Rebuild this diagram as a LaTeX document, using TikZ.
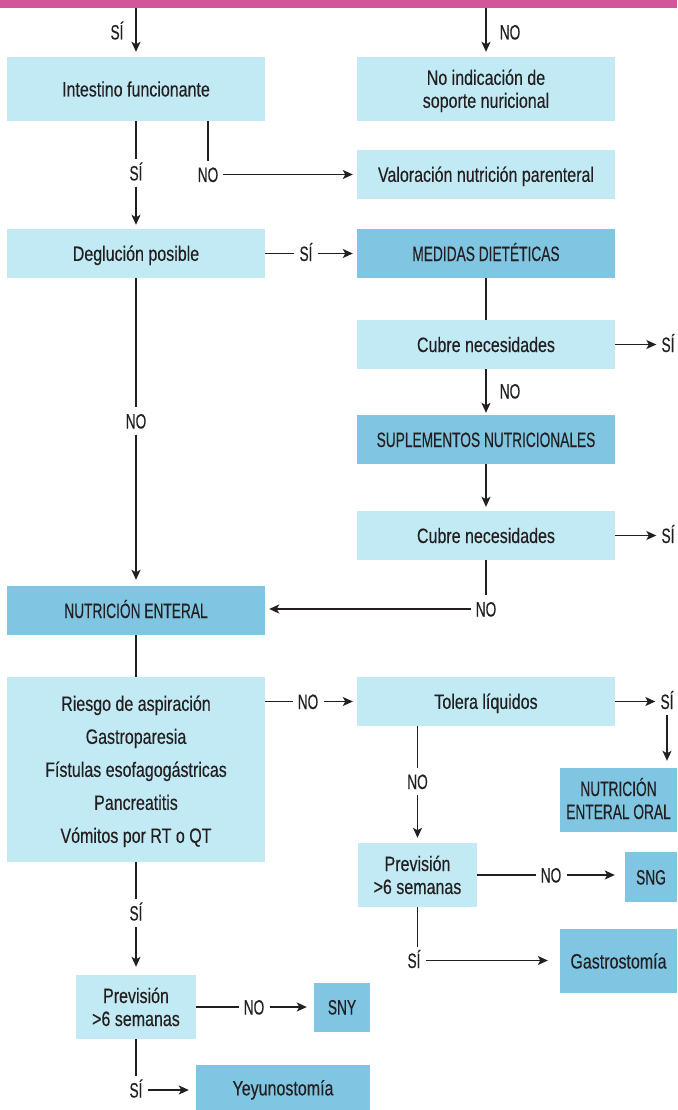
\documentclass[tikz,border=0pt]{standalone}
\usepackage{fontspec}
\usetikzlibrary{arrows.meta}
\newfontfamily\lcf[FakeStretch=0.77,FakeBold=0.3]{Liberation Sans}
\newfontfamily\ucf[FakeStretch=0.66,FakeBold=0.3]{Liberation Sans}
\definecolor{lightc}{HTML}{C2EAF4}
\definecolor{darkc}{HTML}{80C5E1}
\definecolor{magc}{HTML}{D1579A}
\definecolor{txt}{HTML}{231F20}
\newcommand\cs{\rule[-4pt]{0pt}{23pt}}
\begin{document}
\begin{tikzpicture}[x=1pt,y=-1pt,
  box/.style={rectangle, fill=lightc, inner sep=0pt, minimum width=258pt, minimum height=49pt,
    font={\lcf\fontsize{20.8}{23}\selectfont}, text=txt, align=center},
  dbox/.style={box, fill=darkc, font={\ucf\fontsize{20.8}{23}\selectfont}},
  lbl/.style={inner xsep=5pt, inner ysep=6pt, font={\ucf\fontsize{20.8}{23}\selectfont}, text=txt,
    text height=15pt, text depth=0pt},
  ln/.style={line width=1.3pt, draw=txt},
  arr/.style={ln, -{Stealth[length=10pt,width=9pt,inset=2.5pt]}}
]
\useasboundingbox (0,0) rectangle (677,1110);
\fill[white] (0,0) rectangle (677,1110);
% top bar
\node[rectangle, fill=magc, inner sep=0pt, minimum width=677pt, minimum height=8pt] (bar) at (338.5,4) {};
% boxes
\node[box, minimum height=64pt] (intest) at (136,89) {\cs Intestino funcionante};
\node[box, minimum height=64pt] (noind) at (486,89) {\cs No indicación de\\\cs soporte nuricional};
\node[box] (valor) at (486,174.5) {\cs Valoración nutrición parenteral};
\node[box] (deglu) at (136,253.5) {\cs Deglución posible};
\node[dbox] (medidas) at (486,253.5) {\cs MEDIDAS DIETÉTICAS};
\node[box] (cubre1) at (486,344.5) {\cs Cubre necesidades};
\node[dbox] (suple) at (486,439.5) {\cs SUPLEMENTOS NUTRICIONALES};
\node[box] (cubre2) at (486,535.5) {\cs Cubre necesidades};
\node[dbox] (enteral) at (136,610.5) {\cs NUTRICIÓN ENTERAL};
\node[box, minimum height=185pt, font={\lcf\fontsize{20.8}{33}\selectfont}] (riesgo) at (136,769.5)
  {\cs Riesgo de aspiración\\\cs Gastroparesia\\\cs Fístulas esofagogástricas\\\cs Pancreatitis\\\cs Vómitos por RT o QT};
\node[box] (tolera) at (486,701.5) {\cs Tolera líquidos};
\node[dbox, minimum width=117pt, minimum height=64pt] (neoral) at (618.5,800) {\cs NUTRICIÓN\\\cs ENTERAL ORAL};
\node[box, minimum width=119pt, minimum height=64pt] (prevR) at (417.5,875) {\cs Previsión\\\cs >6 semanas};
\node[dbox, minimum width=52pt, minimum height=50pt] (sng) at (651,877) {\cs SNG};
\node[dbox, minimum width=117pt, minimum height=64pt, font={\lcf\fontsize{20.8}{23}\selectfont}] (gastro) at (618.5,961) {\cs Gastrostomía};
\node[box, minimum width=120pt, minimum height=64pt] (prevL) at (136,1007) {\cs Previsión\\\cs >6 semanas};
\node[dbox, minimum width=56pt] (sny) at (342,1007) {\cs SNY};
\node[dbox, minimum width=174pt, minimum height=46pt, font={\lcf\fontsize{20.8}{23}\selectfont}] (yeyu) at (283,1088) {\cs Yeyunostomía};
% labels
\node[lbl] (s0) at (117,32) {SÍ};
\node[lbl] (n0) at (510,32) {NO};
\node[lbl] (s2) at (136,173) {SÍ};
\node[lbl] (n2) at (208,174.5) {NO};
\node[lbl] (s3) at (306,253.5) {SÍ};
\node[lbl] (s4) at (668,344.5) {SÍ};
\node[lbl] (n4) at (510,391) {NO};
\node[lbl] (s5) at (668,535.5) {SÍ};
\node[lbl] (n5) at (486,609) {NO};
\node[lbl] (n6) at (136,421) {NO};
\node[lbl] (n7) at (308,701.5) {NO};
\node[lbl] (s8) at (667,701.5) {SÍ};
\node[lbl] (n9) at (417.5,781.5) {NO};
\node[lbl] (n10) at (551,875) {NO};
\node[lbl] (s11) at (414,960.5) {SÍ};
\node[lbl] (s12) at (136,913) {SÍ};
\node[lbl] (n13) at (254,1007) {NO};
\node[lbl] (s14) at (136,1090) {SÍ};
% connectors
\draw[arr, shorten >=5pt] (bar.south -| intest) -- (intest);
\draw[arr, shorten >=5pt] (bar.south -| noind) -- (noind);
\draw[ln] (intest) -- (s2);
\draw[arr, shorten >=4pt] (s2) -- (deglu);
\draw[ln] (intest.south -| n2) -- (n2);
\draw[arr, shorten >=4pt] (n2) -- (valor);
\draw[ln] (deglu) -- (s3);
\draw[arr, shorten >=4pt] (s3) -- (medidas);
\draw[ln] (medidas) -- (cubre1);
\draw[arr] (cubre1) -- (s4);
\draw[arr, shorten >=2pt] (cubre1) -- (suple);
\draw[arr, shorten >=4pt] (suple) -- (cubre2);
\draw[arr] (cubre2) -- (s5);
\draw[ln] (cubre2) -- (n5);
\draw[arr, shorten >=4pt] (n5) -- (n5 -| enteral.east);
\draw[ln] (deglu) -- (n6);
\draw[arr, shorten >=6pt] (n6) -- (enteral);
\draw[ln] (enteral) -- (riesgo);
\draw[ln] (riesgo.east |- n7) -- (n7);
\draw[arr, shorten >=4pt] (n7) -- (tolera);
\draw[arr] (tolera) -- (s8);
\draw[arr, shorten >=7pt] (s8) -- (s8 |- neoral.north);
\draw[ln] (tolera.south -| n9) -- (n9);
\draw[arr, shorten >=5pt] (n9) -- (prevR);
\draw[ln] (prevR) -- (n10);
\draw[arr, shorten >=10pt] (n10) -- (n10 -| sng.west);
\draw[ln] (prevR) -- (prevR |- s11.north);
\draw[arr, shorten >=12pt] (s11) -- (s11 -| gastro.west);
\draw[ln] (riesgo) -- (s12);
\draw[arr, shorten >=8pt] (s12) -- (prevL);
\draw[ln] (prevL) -- (n13);
\draw[arr, shorten >=7pt] (n13) -- (sny);
\draw[ln] (prevL) -- (s14);
\draw[arr, shorten >=7pt] (s14) -- (s14 -| yeyu.west);
\end{tikzpicture}
\end{document}
